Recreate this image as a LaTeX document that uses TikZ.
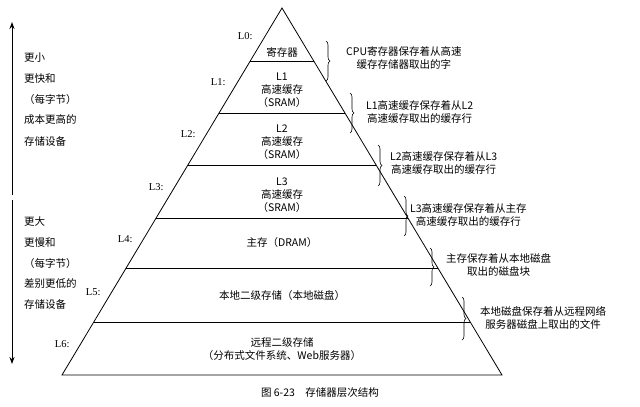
\documentclass[tikz,border=0pt]{standalone}
\usepackage{fontspec}
\setmainfont{Liberation Serif}
\newfontfamily\cjk{Noto Sans CJK SC}
\usetikzlibrary{decorations.pathreplacing,arrows.meta}
\begin{document}
\begin{tikzpicture}[x=1pt,y=-1pt,font=\cjk\fontsize{10.5}{13}\selectfont,
  lvl/.style={anchor=east,font=\fontsize{10.5}{12}\selectfont},
  blk/.style={align=center,inner sep=0pt},
  rt/.style={align=center,anchor=west,inner sep=0pt},
  lt/.style={anchor=west,inner sep=0pt},
  brc/.style={decorate,decoration={brace,amplitude=4pt},line width=0.6pt},
  arr/.style={-{Stealth[length=7pt,width=5pt]},line width=1pt}]
\useasboundingbox (0,0) rectangle (640,407);
% pyramid
\coordinate (apex) at (282,8);
\coordinate (bl) at (62,375);
\coordinate (br) at (502,375);
\draw[line width=0.8pt] (apex) -- (bl) -- (br) -- cycle;
\foreach \y/\w in {61/31.8,113/62.9,165/94.1,218/125.9,268/155.9,322/188.3}
  \draw[line width=0.8pt] (282-\w,\y) -- (282+\w,\y);
% level labels
\node[lvl] (l0) at (256,36) {L0:};
\node[lvl] (l1) at (229,82) {L1:};
\node[lvl] (l2) at (199,134) {L2:};
\node[lvl] (l3) at (167,187) {L3:};
\node[lvl] (l4) at (136,239) {L4:};
\node[lvl] (l5) at (104,292) {L5:};
\node[lvl] (l6) at (73,344) {L6:};
% block texts
\node[blk] (b0) at (282,52) {寄存器};
\node[blk] (b1) at (282,90) {L1\\高速缓存\\（SRAM）};
\node[blk] (b2) at (282,142) {L2\\高速缓存\\（SRAM）};
\node[blk] (b3) at (282,195) {L3\\高速缓存\\（SRAM）};
\node[blk] (b4) at (282,243) {主存（DRAM）};
\node[blk] (b5) at (282,296) {本地二级存储（本地磁盘）};
\node[blk] (b6) at (282,349) {远程二级存储\\（分布式文件系统、Web服务器）};
% braces
\foreach \i/\x/\ya/\yb in {0/326/41/81,1/350/93/133,2/378/145/186,3/404/196/236,4/430/248/286,5/462/297/340}{
  \coordinate (ba\i) at (\x,\ya);
  \coordinate (bb\i) at (\x,\yb);
  \draw[brc] (ba\i) -- (bb\i);
}
\node[rt] (t0) at (346,58) {CPU寄存器保存着从高速\\缓存存储器取出的字};
\node[rt] (t1) at (366,112) {L1高速缓存保存着从L2\\高速缓存取出的缓存行};
\node[rt] (t2) at (390,163) {L2高速缓存保存着从L3\\高速缓存取出的缓存行};
\node[rt] (t3) at (410,215) {L3高速缓存保存着从主存\\高速缓存取出的缓存行};
\node[rt] (t4) at (446,265) {主存保存着从本地磁盘\\取出的磁盘块};
\node[rt] (t5) at (480,318) {本地磁盘保存着从远程网络\\服务器磁盘上取出的文件};
% left arrows
\coordinate (u1) at (12,195); \coordinate (u2) at (12,22);
\coordinate (d1) at (12,200); \coordinate (d2) at (12,364);
\draw[arr] (u1) -- (u2);
\draw[arr] (d1) -- (d2);
\node[lt] (a1) at (24,58) {更小};
\node[lt] (a2) at (24,79) {更快和};
\node[lt] (a3) at (24,100) {（每字节）};
\node[lt] (a4) at (24,120) {成本更高的};
\node[lt] (a5) at (24,142) {存储设备};
\node[lt] (c1) at (24,222) {更大};
\node[lt] (c2) at (24,243) {更慢和};
\node[lt] (c3) at (24,264) {（每字节）};
\node[lt] (c4) at (24,284) {差别更低的};
\node[lt] (c5) at (24,305) {存储设备};
\node (cap) at (320,393) {图 6-23\quad 存储器层次结构};
\end{tikzpicture}
\end{document}
